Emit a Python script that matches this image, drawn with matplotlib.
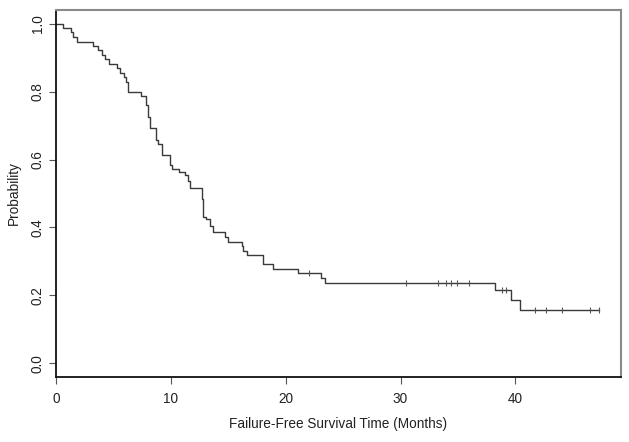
import numpy as np
import matplotlib
matplotlib.use('Agg')
import matplotlib.pyplot as plt

# Kaplan-Meier estimate (time in months, survival after the step)
step_times = [0, 0.6, 1.3, 1.5, 1.8, 3.2, 3.7, 4.0, 4.3, 4.6, 5.3, 5.6, 5.9, 6.1, 6.3,
              7.4, 7.8, 8.0, 8.2, 8.7, 8.9, 9.2, 9.9, 10.1, 10.7, 11.2, 11.5, 11.7,
              12.7, 12.8, 13.1, 13.4, 13.7, 14.7, 15.0, 16.2, 16.3, 16.6, 18.05, 18.9,
              21.1, 23.1, 23.4, 38.2, 39.6, 40.4, 47.3]
surv_probs = [1.0, 0.987, 0.974, 0.960, 0.947, 0.934, 0.921, 0.908, 0.895, 0.882, 0.868,
              0.855, 0.842, 0.829, 0.800, 0.787, 0.760, 0.726, 0.694, 0.657, 0.647, 0.612,
              0.583, 0.573, 0.563, 0.555, 0.538, 0.517, 0.484, 0.430, 0.425, 0.405, 0.386,
              0.371, 0.356, 0.346, 0.331, 0.320, 0.292, 0.279, 0.265, 0.252, 0.238, 0.215,
              0.186, 0.157, 0.157]
censor_times = [22.05, 30.46, 33.27, 33.94, 34.43, 34.92, 35.97, 38.8, 39.2,
                41.7, 42.7, 44.1, 46.5, 47.3]

x_ticks = [0, 10, 20, 30, 40]
y_ticks = [0.0, 0.2, 0.4, 0.6, 0.8, 1.0]

plt.rcParams['font.family'] = ['Liberation Sans', 'DejaVu Sans']

fig = plt.figure(figsize=(6.29, 4.42), dpi=100)
ax = fig.add_axes([56 / 629, 1 - 377 / 442, (621 - 56) / 629, (377 - 10) / 442])

t = np.array(step_times)
s = np.array(surv_probs)
ax.step(t, s, where='post', color='#3a3a3a', linewidth=1.0)

# censor marks sit on the curve
ct = np.array(censor_times)
idx = np.searchsorted(t, ct, side='right') - 1
ax.plot(ct, s[idx], linestyle='none', marker='|', markersize=5,
        color='#555555', markeredgewidth=0.8)

ax.set_xlim(0, 49.2)
ax.set_ylim(-0.04, 1.04)
ax.set_xticks(x_ticks)
ax.set_xticklabels([str(v) for v in x_ticks])
ax.set_yticks(y_ticks)
ax.set_yticklabels([f'{v:.1f}' for v in y_ticks], rotation=90, va='center')

ax.tick_params(direction='out', length=5, width=0.8, colors='#555555',
               labelcolor='#222222', labelsize=9.8)
ax.tick_params(axis='x', pad=6)
ax.tick_params(axis='y', pad=3)

for side in ['left', 'bottom']:
    ax.spines[side].set_color('#111111')
    ax.spines[side].set_linewidth(1.3)
for side in ['top', 'right']:
    ax.spines[side].set_color('#8a8a8a')
    ax.spines[side].set_linewidth(1.5)

ax.set_xlabel('Failure-Free Survival Time (Months)', fontsize=9.8, color='#222222', labelpad=8)
ax.set_ylabel('Probability', fontsize=9.8, color='#222222', labelpad=7)

fig.savefig('out.png', dpi=100)
